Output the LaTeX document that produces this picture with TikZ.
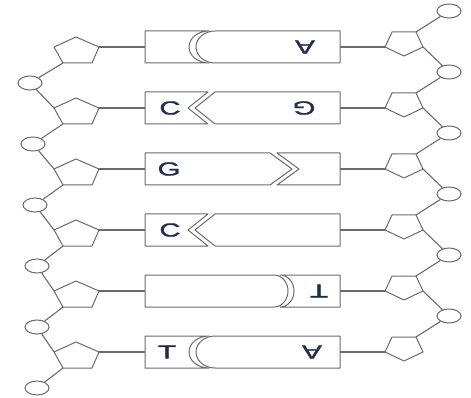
\documentclass[tikz,border=0pt]{standalone}
\usepackage{fontspec}
\setmainfont{Liberation Sans}
\usetikzlibrary{shapes.geometric}
\definecolor{strand}{HTML}{6A6A6A}
\definecolor{letter}{RGB}{35,45,75}
\begin{document}
\begin{tikzpicture}[x=1pt,y=-1pt,
  bb/.style={draw=strand, line width=1pt, line join=round, fill=white},
  link/.style={draw=strand, line width=1.1pt},
  phos/.style={ellipse, draw=strand, line width=1pt, fill=white,
    minimum width=24pt, minimum height=14pt, inner sep=0pt},
  barslot/.style={rectangle, minimum width=195pt, minimum height=32pt, inner sep=0pt},
  base/.style={text=letter, font=\fontsize{19}{19}\selectfont\addfontfeature{FakeBold=1.2}, inner sep=0pt},
]
\useasboundingbox (0,0) rectangle (471,398);

% sugars, phosphates and base-pair slots, one rung per row
\foreach \i/\c/\lx in {1/47/30, 2/108/33, 3/169/35, 4/230/37, 5/291/37, 6/352/37} {
  % left sugar (point up)
  \coordinate (L\i-t)  at (76,\c-10);
  \coordinate (L\i-r)  at (99,\c);
  \coordinate (L\i-br) at (92,\c+16);
  \coordinate (L\i-bl) at (63,\c+16);
  \coordinate (L\i-l)  at (54,\c);
  \draw[bb] (L\i-t) -- (L\i-r) -- (L\i-br) -- (L\i-bl) -- (L\i-l) -- cycle;
  % right sugar (point down)
  \coordinate (R\i-b)  at (404,\c+9);
  \coordinate (R\i-l)  at (385,\c);
  \coordinate (R\i-tl) at (392,\c-15);
  \coordinate (R\i-tr) at (416,\c-15);
  \coordinate (R\i-r)  at (423,\c);
  \draw[bb] (R\i-b) -- (R\i-l) -- (R\i-tl) -- (R\i-tr) -- (R\i-r) -- cycle;
  % slot of the base pair
  \node[barslot] (B\i) at (242.5,\c) {};
  \draw[link] (L\i-r) -- (B\i.west);
  \draw[link] (B\i.east) -- (R\i-l);
  % phosphates
  \node[phos] (LP\i) at (\lx,\c+36) {};
  \node[phos] (RP\i) at (449,\c-36) {};
  \draw[link] (L\i-bl) -- (LP\i);
  \draw[link] (RP\i) -- (R\i-tr);
}
% backbone links between rows
\foreach \i/\j in {1/2, 2/3, 3/4, 4/5, 5/6} {
  \draw[link] (LP\i) -- (L\j-l);
  \draw[link] (R\i-r) -- (RP\j);
}

% row 1: rounded joint
\draw[bb] (145,31) -- (209,31) arc[start angle=90,end angle=270,x radius=20pt,y radius=16pt] -- (145,63) -- cycle;
\draw[bb] (215,31) arc[start angle=90,end angle=270,x radius=19pt,y radius=16pt] -- (340,63) -- (340,31) -- cycle;
% row 2: chevron pointing left
\draw[bb] (145,92) -- (208,92) -- (188,108) -- (208,124) -- (145,124) -- cycle;
\draw[bb] (215,92) -- (195,108) -- (215,124) -- (340,124) -- (340,92) -- cycle;
% row 3: chevron pointing right
\draw[bb] (145,153) -- (270,153) -- (292,169) -- (270,185) -- (145,185) -- cycle;
\draw[bb] (277,153) -- (299,169) -- (277,185) -- (340,185) -- (340,153) -- cycle;
% row 4: chevron pointing left
\draw[bb] (145,214) -- (208,214) -- (188,230) -- (208,246) -- (145,246) -- cycle;
\draw[bb] (215,214) -- (195,230) -- (215,246) -- (340,246) -- (340,214) -- cycle;
% row 5: rounded joint facing right
\draw[bb] (145,275) -- (274,275) arc[start angle=90,end angle=-90,x radius=14pt,y radius=16pt] -- (145,307) -- cycle;
\draw[bb] (280,275) arc[start angle=90,end angle=-90,x radius=14pt,y radius=16pt] -- (340,307) -- (340,275) -- cycle;
% row 6: rounded joint
\draw[bb] (145,336) -- (209,336) arc[start angle=90,end angle=270,x radius=20pt,y radius=16pt] -- (145,368) -- cycle;
\draw[bb] (215,336) arc[start angle=90,end angle=270,x radius=19pt,y radius=16pt] -- (340,368) -- (340,336) -- cycle;

% base letters
\node[base, rotate=180] (b1r) at (305,47)  {\scalebox{1.55}[1]{A}};
\node[base]             (b2l) at (170,108) {\scalebox{1.55}[1]{C}};
\node[base, rotate=180] (b2r) at (304,108) {\scalebox{1.55}[1]{G}};
\node[base]             (b3l) at (169,169) {\scalebox{1.55}[1]{G}};
\node[base]             (b4l) at (170,230) {\scalebox{1.55}[1]{C}};
\node[base, rotate=180] (b5r) at (319,291) {\scalebox{1.55}[1]{T}};
\node[base]             (b6l) at (167,352) {\scalebox{1.55}[1]{T}};
\node[base, rotate=180] (b6r) at (312,352) {\scalebox{1.55}[1]{A}};
\end{tikzpicture}
\end{document}
